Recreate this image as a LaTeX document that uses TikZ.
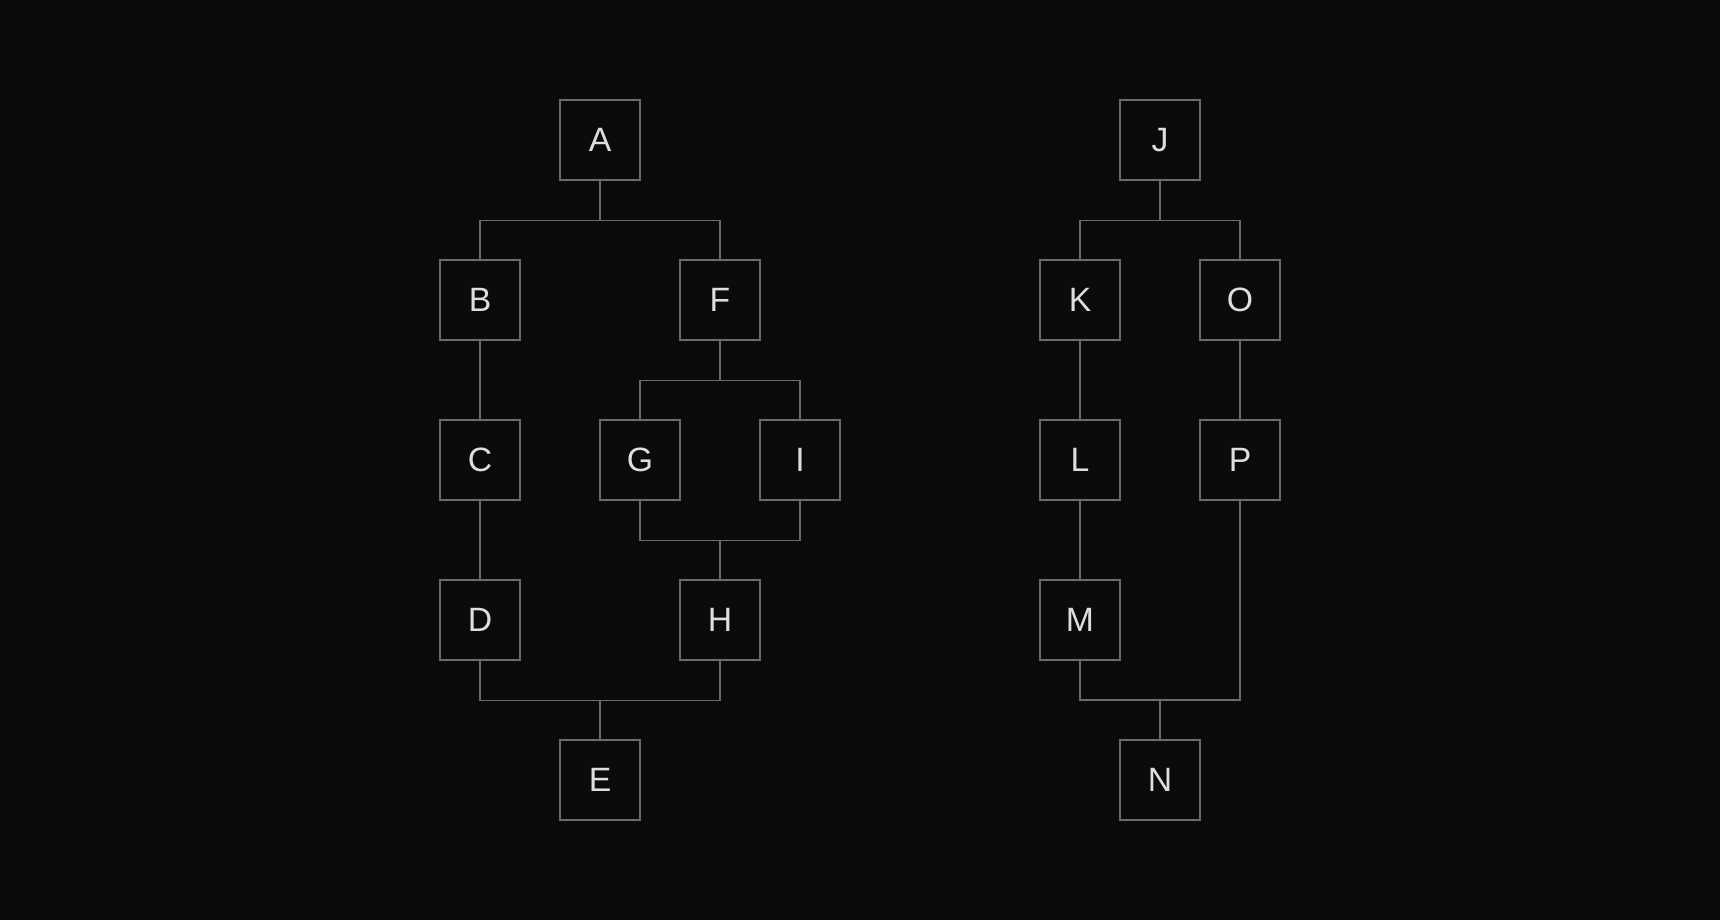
\documentclass[tikz,border=0pt]{standalone}
\usepackage{fontspec}
\setmainfont{Liberation Sans}
\definecolor{bgcol}{HTML}{0B0B0B}
\definecolor{linecol}{HTML}{6A6A6A}
\definecolor{textcol}{HTML}{DEDEDE}

\begin{document}
\begin{tikzpicture}[
		box/.style={draw=linecol, line width=0.8pt, minimum size=2cm, inner sep=0pt,
			text=textcol, font=\fontsize{24}{28}\selectfont},
		wire/.style={draw=linecol, line width=0.8pt},
		]
		%background
		\fill[bgcol] (0,0) rectangle (43,23);
		
		%left tree
		\node[box] (A) at (15,19.5) {A};
		\node[box] (B) at (12,15.5) {B};
		\node[box] (F) at (18,15.5) {F};
		\node[box] (C) at (12,11.5) {C};
		\node[box] (G) at (16,11.5) {G};
		\node[box] (I) at (20,11.5) {I};
		\node[box] (D) at (12,7.5) {D};
		\node[box] (H) at (18,7.5) {H};
		\node[box] (E) at (15,3.5) {E};
		
		%right tree
		\node[box] (J) at (29,19.5) {J};
		\node[box] (K) at (27,15.5) {K};
		\node[box] (O) at (31,15.5) {O};
		\node[box] (L) at (27,11.5) {L};
		\node[box] (P) at (31,11.5) {P};
		\node[box] (M) at (27,7.5) {M};
		\node[box] (N) at (29,3.5) {N};
		\coordinate (bus) at (29,5.5);
		
		%wires left
		\draw[wire] (A.south) -- ++(0,-1) -| (B.north);
		\draw[wire] (A.south) -- ++(0,-1) -| (F.north);
		\draw[wire] (B) -- (C);
		\draw[wire] (C) -- (D);
		\draw[wire] (F.south) -- ++(0,-1) -| (G.north);
		\draw[wire] (F.south) -- ++(0,-1) -| (I.north);
		\draw[wire] (G.south) -- ++(0,-1) -| (H.north);
		\draw[wire] (I.south) -- ++(0,-1) -| (H.north);
		\draw[wire] (D.south) -- ++(0,-1) -| (E.north);
		\draw[wire] (H.south) -- ++(0,-1) -| (E.north);
		
		%wires right
		\draw[wire] (J.south) -- ++(0,-1) -| (K.north);
		\draw[wire] (J.south) -- ++(0,-1) -| (O.north);
		\draw[wire] (K) -- (L);
		\draw[wire] (L) -- (M);
		\draw[wire] (O) -- (P);
		\draw[wire] (M.south) |- (bus) -- (N.north);
		\draw[wire] (P.south) |- (bus);
	\end{tikzpicture}
\end{document}
